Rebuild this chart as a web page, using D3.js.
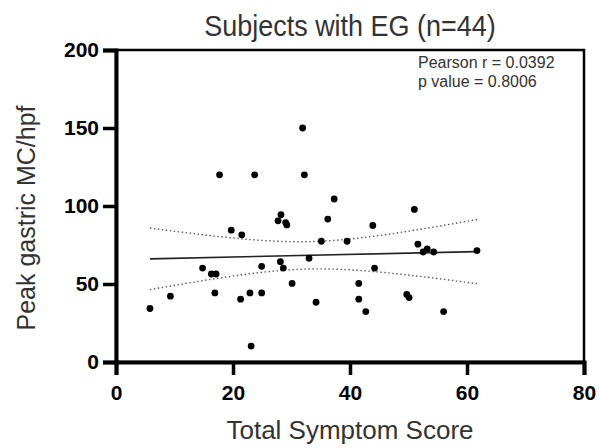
<!DOCTYPE html>
<html lang="en">
<head>
<meta charset="UTF-8">
<title>Subjects with EG</title>
<script src="https://d3js.org/d3.v7.min.js"></script>
<style>
  body { margin: 0; background: #fff; }
  text { font-family: "Liberation Sans", Arial, sans-serif; }
</style>
</head>
<body>
<svg id="chart" width="599" height="448"></svg>
<script>
  // data
  var score = [5.8, 9.3, 14.8, 16.3, 17.1, 16.9, 17.7, 19.7, 21.5, 21.3, 22.9, 23.1, 23.7, 24.9, 24.9,
               27.7, 28.2, 29.0, 29.2, 28.1, 28.6, 30.1, 31.9, 32.2, 33.0, 34.2, 35.1, 36.2, 37.3, 39.5,
               43.9, 51.0, 51.6, 52.5, 53.2, 54.3, 61.7, 44.2, 41.5, 41.5, 42.7, 49.7, 50.1, 56.0];
  var mc =    [34.3, 42.2, 60.2, 56.4, 56.4, 44.3, 120, 84.5, 81.5, 40.3, 44.3, 10.2, 120, 61.3, 44.3,
               90.5, 94.4, 89.4, 87.9, 64.3, 60.2, 50.4, 150, 120, 66.5, 38.3, 77.4, 91.6, 104.5, 77.4,
               87.5, 97.8, 75.5, 70.5, 72.5, 70.5, 71.4, 60.2, 50.4, 40.3, 32.3, 43.3, 41.3, 32.3];
  var xTicks = [0, 20, 40, 60, 80];
  var yTicks = [0, 50, 100, 150, 200];
  var statLines = ["Pearson r = 0.0392", "p value = 0.8006"];

  var svg = d3.select("#chart");
  var x = d3.scaleLinear().domain([0, 80]).range([116, 584]);
  var y = d3.scaleLinear().domain([0, 200]).range([362, 50]);

  var pts = score.map(function(d, i) { return [d, mc[i]]; });

  // least squares fit + 95% confidence band
  var n = pts.length;
  var mx = d3.mean(score), my = d3.mean(mc);
  var sxx = d3.sum(score, function(d) { return (d - mx) * (d - mx); });
  var sxy = d3.sum(pts, function(p) { return (p[0] - mx) * (p[1] - my); });
  var slope = sxy / sxx, icpt = my - slope * mx;
  var sse = d3.sum(pts, function(p) { var r = p[1] - (icpt + slope * p[0]); return r * r; });
  var se = Math.sqrt(sse / (n - 2));
  var tval = 2.018;
  var x0 = d3.min(score), x1 = d3.max(score);
  var grid = d3.range(0, 61).map(function(i) { return x0 + (x1 - x0) * i / 60; });
  function half(v) { return tval * se * Math.sqrt(1 / n + (v - mx) * (v - mx) / sxx); }

  var line = d3.line().x(function(d) { return x(d[0]); }).y(function(d) { return y(d[1]); });

  // frame
  svg.append("rect")
    .attr("x", x(0)).attr("y", y(200))
    .attr("width", x(80) - x(0)).attr("height", y(0) - y(200))
    .attr("fill", "none").attr("stroke", "#000").attr("stroke-width", 2.5);

  // confidence band
  [1, -1].forEach(function(s) {
    svg.append("path")
      .attr("d", line(grid.map(function(v) { return [v, icpt + slope * v + s * half(v)]; })))
      .attr("fill", "none").attr("stroke", "#555").attr("stroke-width", 1.4)
      .attr("stroke-dasharray", "1.4,2.6");
  });

  // fit line
  svg.append("path")
    .attr("d", line([[x0, icpt + slope * x0], [x1, icpt + slope * x1]]))
    .attr("fill", "none").attr("stroke", "#222").attr("stroke-width", 1.6);

  // points
  svg.append("g").selectAll("circle")
    .data(pts).enter().append("circle")
    .attr("cx", function(d) { return x(d[0]); })
    .attr("cy", function(d) { return y(d[1]); })
    .attr("r", 3.4).attr("fill", "#000");

  // axes
  var xAxis = svg.append("g")
    .attr("transform", "translate(0," + y(0) + ")")
    .call(d3.axisBottom(x).tickValues(xTicks).tickSize(13).tickPadding(10));
  var yAxis = svg.append("g")
    .attr("transform", "translate(" + x(0) + ",0)")
    .call(d3.axisLeft(y).tickValues(yTicks).tickSize(13).tickPadding(4));
  [xAxis, yAxis].forEach(function(g) {
    g.select(".domain").attr("stroke-width", 4);
    g.selectAll(".tick line").attr("stroke-width", 3.5);
    g.selectAll(".tick text")
      .attr("font-family", "'Liberation Sans', Arial, sans-serif")
      .attr("font-size", 21).attr("font-weight", "bold").attr("fill", "#000");
  });

  // titles
  svg.append("text")
    .attr("transform", "translate(350,36) scale(0.9,1)")
    .attr("text-anchor", "middle")
    .attr("font-size", 30).attr("fill", "#333")
    .text("Subjects with EG (n=44)");
  svg.append("text")
    .attr("x", 350).attr("y", 439).attr("text-anchor", "middle")
    .attr("font-size", 26).attr("fill", "#333")
    .text("Total Symptom Score");
  svg.append("text")
    .attr("transform", "translate(35,218) rotate(-90)")
    .attr("text-anchor", "middle")
    .attr("font-size", 25).attr("fill", "#333")
    .text("Peak gastric MC/hpf");

  // stats
  svg.append("g").selectAll("text")
    .data(statLines).enter().append("text")
    .attr("x", 418).attr("y", function(d, i) { return 68 + i * 18.5; })
    .attr("font-size", 16).attr("fill", "#333")
    .text(function(d) { return d; });
</script>
</body>
</html>
